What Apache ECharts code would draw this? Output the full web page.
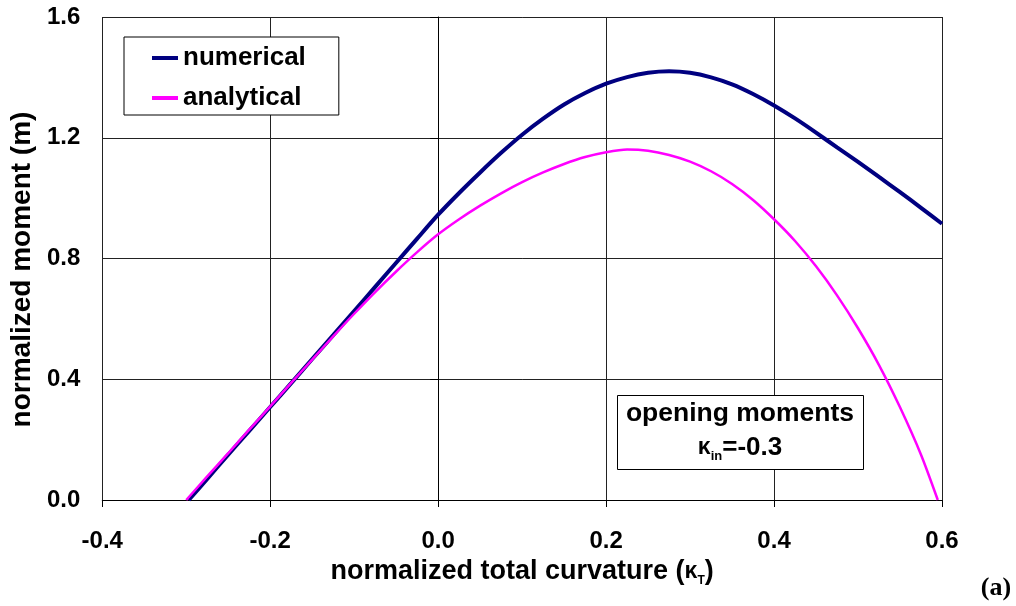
<!DOCTYPE html>
<html>
<head>
<meta charset="utf-8">
<script src="https://cdn.jsdelivr.net/npm/echarts@6/dist/echarts.min.js"></script>
<style>
html,body{margin:0;padding:0;background:#fff;}
#chart{width:1016px;height:606px;}
</style>
</head>
<body>
<div id="chart"></div>
<script>
// Data
const seriesNames = ['numerical', 'analytical'];
const xNumerical = [-0.297, -0.275, -0.25, -0.225, -0.2, -0.175, -0.15, -0.125, -0.1, -0.075, -0.05, -0.025,
  0.0, 0.025, 0.05, 0.075, 0.1, 0.125, 0.15, 0.175, 0.2, 0.225, 0.25, 0.275, 0.3, 0.325, 0.35, 0.375,
  0.4, 0.425, 0.45, 0.475, 0.5, 0.525, 0.55, 0.575, 0.6];
const yNumerical = [0.0, 0.07, 0.15, 0.229, 0.308, 0.387, 0.467, 0.546, 0.626, 0.706, 0.786, 0.866,
  0.945, 1.017, 1.085, 1.15, 1.21, 1.263, 1.31, 1.348, 1.379, 1.401, 1.415, 1.42, 1.415, 1.40, 1.377, 1.345,
  1.307, 1.264, 1.217, 1.168, 1.12, 1.07, 1.02, 0.968, 0.915];
const xAnalytical = [-0.3, -0.275, -0.25, -0.225, -0.2, -0.175, -0.15, -0.125, -0.1, -0.075, -0.05, -0.025,
  0.0, 0.025, 0.05, 0.075, 0.1, 0.125, 0.15, 0.175, 0.2, 0.225, 0.25, 0.275, 0.3, 0.325, 0.35, 0.375,
  0.4, 0.425, 0.45, 0.475, 0.5, 0.525, 0.55, 0.575, 0.595];
const yAnalytical = [0.0, 0.078, 0.155, 0.233, 0.31, 0.388, 0.465, 0.542, 0.617, 0.689, 0.757, 0.821,
  0.88, 0.93, 0.975, 1.016, 1.053, 1.085, 1.113, 1.136, 1.152, 1.161, 1.157, 1.143, 1.121, 1.089, 1.047, 0.994,
  0.93, 0.858, 0.774, 0.678, 0.569, 0.447, 0.307, 0.15, 0.0];
const xTicks = [-0.4, -0.2, 0.0, 0.2, 0.4, 0.6];
const yTicks = [0.0, 0.4, 0.8, 1.2, 1.6];

const pairs = (xs, ys) => xs.map((x, i) => [x, ys[i]]);
const FONT = '"Liberation Sans", Arial, Helvetica, sans-serif';

const chart = echarts.init(document.getElementById('chart'), null, {renderer: 'canvas'});
chart.setOption({
  backgroundColor: '#fff',
  animation: false,
  grid: {left: 102, right: 74, top: 17, bottom: 106, containLabel: false},
  legend: {
    data: seriesNames.map(n => ({name: n, icon: 'rect'})),
    orient: 'vertical',
    left: 124, top: 37,
    backgroundColor: '#fff',
    borderColor: '#000', borderWidth: 1,
    padding: [6, 33, 2, 28],
    itemWidth: 26, itemHeight: 4, itemGap: 10,
    textStyle: {fontFamily: FONT, fontWeight: 'bold', fontSize: 26, color: '#000', lineHeight: 30},
    z: 10
  },
  xAxis: {
    type: 'value',
    min: xTicks[0], max: xTicks[xTicks.length - 1], interval: 0.2,
    name: '{b|normalized total curvature (}{k|κ}{s|T}{b|)}',
    nameLocation: 'middle', nameGap: 56,
    nameTextStyle: {
      rich: {
        b: {fontFamily: FONT, fontWeight: 'bold', fontSize: 27, color: '#000', lineHeight: 30},
        k: {fontFamily: FONT, fontWeight: 'bold', fontSize: 23, color: '#000', lineHeight: 30},
        s: {fontFamily: FONT, fontWeight: 'bold', fontSize: 12, color: '#000', lineHeight: 19, verticalAlign: 'bottom'}
      }
    },
    axisLine: {show: true, onZero: false, lineStyle: {color: '#000', width: 1}},
    axisTick: {show: true, length: 7, lineStyle: {color: '#000'}},
    axisLabel: {margin: 29, fontFamily: FONT, fontWeight: 'bold', fontSize: 24, color: '#000',
      formatter: v => v.toFixed(1)},
    splitLine: {show: true, lineStyle: {color: '#222', width: 1}}
  },
  yAxis: {
    type: 'value',
    min: yTicks[0], max: yTicks[yTicks.length - 1], interval: 0.4,
    name: 'normalized moment (m)',
    nameLocation: 'middle', nameGap: 66, nameRotate: 90,
    nameTextStyle: {fontFamily: FONT, fontWeight: 'bold', fontSize: 28, color: '#000', padding: [0, 22, 0, 0]},
    axisLine: {show: true, lineStyle: {color: '#000', width: 1}},
    axisTick: {show: true, length: 8, lineStyle: {color: '#000'}},
    axisLabel: {margin: 22, fontFamily: FONT, fontWeight: 'bold', fontSize: 24, color: '#000',
      formatter: v => v.toFixed(1)},
    splitLine: {show: true, lineStyle: {color: '#222', width: 1}}
  },
  series: [
    {
      name: seriesNames[0], type: 'line', data: pairs(xNumerical, yNumerical),
      smooth: 0.25, symbol: 'none', clip: true,
      lineStyle: {color: '#000080', width: 4}, itemStyle: {color: '#000080'}, z: 3
    },
    {
      name: seriesNames[1], type: 'line', data: pairs(xAnalytical, yAnalytical),
      smooth: 0.25, symbol: 'none', clip: true,
      lineStyle: {color: '#FF00FF', width: 2.5}, itemStyle: {color: '#FF00FF'}, z: 4
    }
  ],
  graphic: [
    {
      type: 'rect', z: 20,
      shape: {x: 617.5, y: 395.5, width: 246, height: 74},
      style: {fill: '#fff', stroke: '#000', lineWidth: 1}
    },
    {
      type: 'text', z: 21, x: 740, y: 414,
      style: {text: 'opening moments', fontFamily: FONT, fontWeight: 'bold', fontSize: 26.5,
        fill: '#000', align: 'center', verticalAlign: 'middle'}
    },
    {
      type: 'text', z: 21, x: 740, y: 448,
      style: {
        text: '{k|κ}{s|in}{b|=-0.3}', align: 'center', verticalAlign: 'middle',
        rich: {
          k: {fontFamily: FONT, fontWeight: 'bold', fontSize: 23, fill: '#000', lineHeight: 30},
          s: {fontFamily: FONT, fontWeight: 'bold', fontSize: 13, fill: '#000', lineHeight: 20, verticalAlign: 'bottom'},
          b: {fontFamily: FONT, fontWeight: 'bold', fontSize: 26, fill: '#000', lineHeight: 30}
        }
      }
    },
    {
      type: 'text', z: 21, x: 996, y: 588,
      style: {text: '(a)', fontFamily: '"Liberation Serif", "Times New Roman", serif', fontWeight: 'bold',
        fontSize: 26, fill: '#000', align: 'center', verticalAlign: 'middle'}
    }
  ]
});
</script>
</body>
</html>
